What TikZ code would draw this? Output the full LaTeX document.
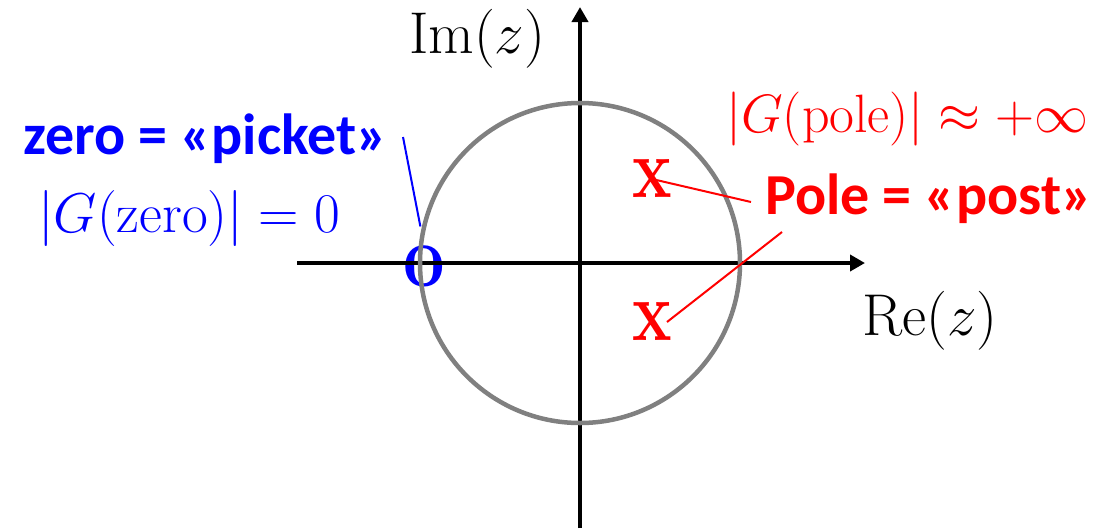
\RequirePackage{fix-cm}
\documentclass[tikz,border=0pt]{standalone}
\usepackage{fontspec}
\newfontfamily\carlito{Carlito}
\usetikzlibrary{arrows.meta}
\definecolor{ringgray}{RGB}{128,128,128}
\begin{document}
\begin{tikzpicture}[x=1pt,y=-1pt,
  axisline/.style={line width=4pt,-{Triangle[length=15pt,width=16pt]}},
  ring/.style={ringgray,line width=4.5pt},
  lbl/.style={inner sep=0pt,anchor=base west},
  zerolbl/.style={lbl,font=\fontsize{56}{62}\selectfont},
  polelbl/.style={lbl,font=\fontsize{54}{62}\selectfont},
  axlbl/.style={lbl,font=\fontsize{59}{66}\selectfont},
  boldlbl/.style={lbl,font=\carlito\bfseries\fontsize{58}{66}\selectfont},
  markchar/.style={inner sep=0pt,font=\rmfamily\bfseries\fontsize{90}{96}\selectfont},
  leader/.style={line width=2pt}
]
\useasboundingbox (0,0) rectangle (1110,531);
% zero marker (below axes and circle)
\node[markchar,blue] (z0) at (424,266) {\scalebox{0.82}[1]{o}};
% axes
\coordinate (xl) at (297,263);
\coordinate (xr) at (865,263);
\coordinate (yb) at (580,528);
\coordinate (yt) at (580,7);
\coordinate (O) at (580,263);
\draw[axisline] (xl) -- (xr);
\draw[axisline] (yb) -- (yt);
% unit circle
\draw[ring] (O) circle[radius=160];
% poles
\node[markchar,red] (p1) at (652,179) {\scalebox{0.74}[0.95]{x}};
\node[markchar,red] (p2) at (652,322) {\scalebox{0.74}[0.95]{x}};
% labels
\node[boldlbl,blue] (zl) at (23,154) {zero = «picket»};
\node[zerolbl,blue] (zv) at (38,232) {$|G(\mathrm{zero})| = 0$};
\node[polelbl,red] (pv) at (726,132) {$|G(\mathrm{pole})| \approx +\infty$};
\node[boldlbl,red] (pl) at (765,214) {Pole = «post»};
\node[axlbl] (re) at (862,335) {$\mathrm{Re}(z)$};
\node[axlbl] (im) at (409,53) {$\mathrm{Im}(z)$};
% leaders
\coordinate (zt) at (403,137);
\draw[leader,blue,shorten >=19pt] (zt) -- (z0.north);
\coordinate (c1) at (751,202);
\coordinate (c2) at (782,232);
\draw[leader,red] (p1.center) -- (c1);
\draw[leader,red] (c2) -- ([xshift=15pt]p2.center);
\end{tikzpicture}
\end{document}
